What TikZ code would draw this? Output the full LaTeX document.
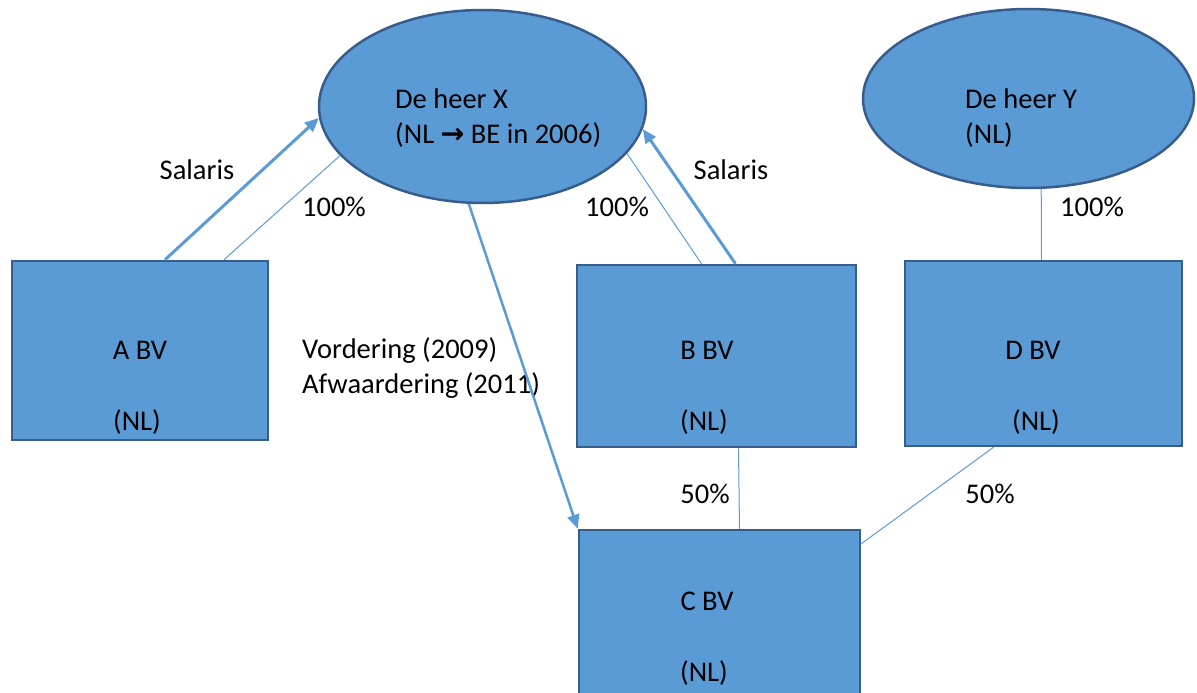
\documentclass[tikz,border=0pt]{standalone}
\usepackage{fontspec}
\setmainfont{Carlito}
\newfontfamily\arrowfont{DejaVu Sans}
\usepackage{xcolor}
\usepackage{tikz}
\usetikzlibrary{shapes.geometric,arrows.meta}
\definecolor{bvfill}{HTML}{5B9BD5}
\definecolor{bvdraw}{HTML}{385D8A}
\tikzstyle{entity}=[
    rectangle,
    draw=bvdraw,
    fill=bvfill,
    line width=2.5pt,
    inner sep=0pt]
\tikzstyle{person}=[
    ellipse,
    draw=bvdraw,
    fill=bvfill,
    line width=2.5pt,
    inner sep=0pt]
\tikzstyle{tag}=[
    inner sep=0pt,
    text=black,
    font=\fontsize{28.5}{35}\selectfont]
\tikzstyle{share}=[draw=bvfill, line width=1pt]
\tikzstyle{flow}=[draw=bvfill, line width=3pt, -{Triangle[length=14pt,width=12pt]}]

\begin{document}
\begin{tikzpicture}[x=1pt,y=-1pt]
    \useasboundingbox (0,0) rectangle (1197,693);
    \clip (0,0) rectangle (1197,693);

    \node[person, minimum width=327pt, minimum height=193pt] (herex) at (482.5,106.5) {};
    \node[person, minimum width=331pt, minimum height=179pt] (herey) at (1028.5,98.5) {};
    \node[tag, align=left, anchor=west] (herexname) at (395,118) {De heer X\\(NL {\arrowfont\bfseries →} BE in 2006)};
    \node[tag, align=left, anchor=west] (hereyname) at (965,118) {De heer Y\\(NL)};

    \node[entity, minimum width=256pt, minimum height=179pt] (abv) at (140,350.5) {};
    \node[entity, minimum width=279pt, minimum height=182pt] (bbv) at (716.5,356) {};
    \node[entity, minimum width=277pt, minimum height=185pt] (dbv) at (1043.5,353.5) {};
    \node[entity, minimum width=281pt, minimum height=182pt] (cbv) at (719.5,621) {};

    \node[tag] (abvname) at (140,350) {A BV};
    \node[tag] (abvland) at (137,422) {(NL)};
    \node[tag] (bbvname) at (707,350) {B BV};
    \node[tag] (bbvland) at (704,422) {(NL)};
    \node[tag] (dbvname) at (1033,350) {D BV};
    \node[tag] (dbvland) at (1036,422) {(NL)};
    \node[tag] (cbvname) at (707,601) {C BV};
    \node[tag] (cbvland) at (704,673) {(NL)};

    \node[tag] (salarisa) at (197,170) {Salaris};
    \node[tag] (salarisb) at (731,170) {Salaris};
    \node[tag] (sharea) at (334,207) {100\%};
    \node[tag] (shareb) at (617,207) {100\%};
    \node[tag] (shared) at (1092,207) {100\%};
    \node[tag] (sharebc) at (705,494) {50\%};
    \node[tag] (sharedc) at (990,494) {50\%};
    \node[tag, align=left, anchor=west] (vordering) at (302,368) {Vordering (2009)\\Afwaardering (2011)};

    \draw[flow] ([xshift=25pt]abv.north) -- (herex.184);
    \draw[share] ([xshift=84pt]abv.north) -- (herex.199);
    \draw[share] (herex.342) -- ([xshift=-15pt]bbv.north);
    \draw[flow] ([xshift=19pt]bbv.north) -- (herex.352);
    \draw[share] (herey.-82) -- ([xshift=-2pt]dbv.north);
    \draw[flow, line width=2.5pt] (herex.262) -- (cbv.north west);
    \draw[share] ([xshift=22pt]bbv.south) -- ([xshift=20pt]cbv.north);
    \draw[share] ([xshift=-50pt]dbv.south) -- ([yshift=-15pt]cbv.north east);
\end{tikzpicture}
\end{document}
